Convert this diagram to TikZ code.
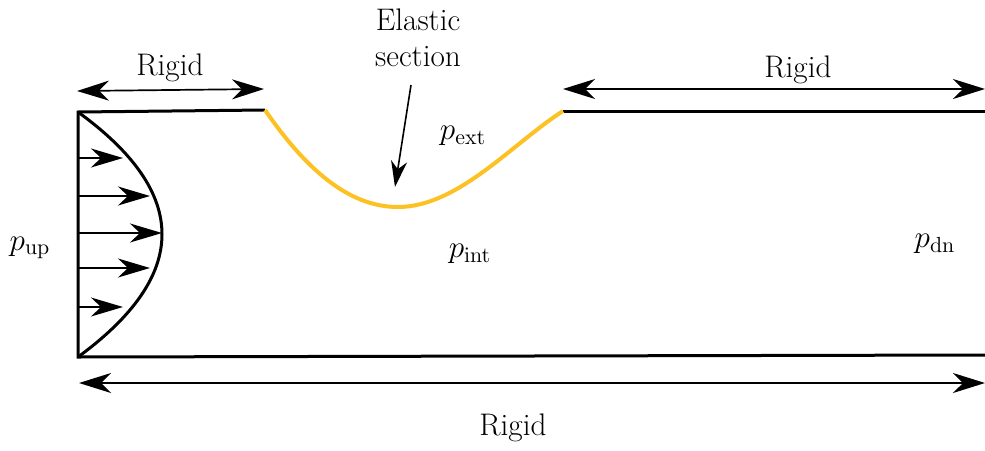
\RequirePackage{fix-cm}
\documentclass[tikz,border=0pt]{standalone}
\usetikzlibrary{arrows.meta}
\definecolor{elastic}{RGB}{252,194,36}
\begin{document}
\begin{tikzpicture}[x=0.5pt,y=-0.5pt,
  every node/.style={font=\fontsize{15.6}{18}\selectfont, inner sep=0pt},
  wall/.style={line width=1.5pt},
  head/.style={Stealth[length=16pt,width=10pt,inset=5pt]},
  flow/.style={line width=0.8pt,-{Stealth[length=16pt,width=9.5pt,inset=5pt]}},
  dim/.style={line width=0.85pt,{Stealth[length=16pt,width=10pt,inset=5pt]}-{Stealth[length=16pt,width=10pt,inset=5pt]}},
  pointer/.style={line width=0.8pt,-{Stealth[length=13pt,width=8pt,inset=4pt]}}]
\useasboundingbox (0,0) rectangle (985,450);
% corners
\coordinate (tl) at (78,112);
\coordinate (bl) at (78,357);
\coordinate (e1) at (265,110);
\coordinate (emin) at (398,207);
\coordinate (e2) at (563,111);
\coordinate (tr) at (985,111);
\coordinate (br) at (985,355);
% walls
\draw[wall] (e1) -- (tl) -- (bl) -- (br);
\draw[wall] (e2) -- (tr);
% elastic section
\draw[elastic, line width=2pt] (e1) .. controls (305,168) and (348,207) .. (emin)
  .. controls (458,207) and (513,143) .. (e2);
% velocity profile
\draw[wall] (tl) .. controls (190,193.3) and (190,275) .. (bl);
\foreach \y/\x in {158/123,196/150,233/162,268/150,307/123}{
  \coordinate (s\y) at (78,\y);
  \coordinate (t\y) at (\x,\y);
  \draw[flow] (s\y) -- (t\y);
}
% dimension arrows
\coordinate (d1a) at (77,91);
\coordinate (d1b) at (264,89);
\draw[dim] (d1a) -- (d1b);
\node (r1) at (170,68) {Rigid};
\coordinate (d2a) at (563,89);
\coordinate (d2b) at (985,89);
\draw[dim] (d2a) -- (d2b);
\node (r2) at (798,70) {Rigid};
\coordinate (d3a) at (79,383);
\coordinate (d3b) at (985,383);
\draw[dim] (d3a) -- (d3b);
\node (r3) at (513,428) {Rigid};
% elastic label
\node[align=center] (el) at (418,38) {Elastic\\section};
\coordinate (ea) at (411,85);
\coordinate (eb) at (395,187);
\draw[pointer] (ea) -- (eb);
% pressures
\node (pext) at (463,136) {$p_{\mathrm{ext}}$};
\node (pint) at (470,254) {$p_{\mathrm{int}}$};
\node (pup) at (30,248) {$p_{\mathrm{up}}$};
\node (pdn) at (935,244) {$p_{\mathrm{dn}}$};
\end{tikzpicture}
\end{document}
